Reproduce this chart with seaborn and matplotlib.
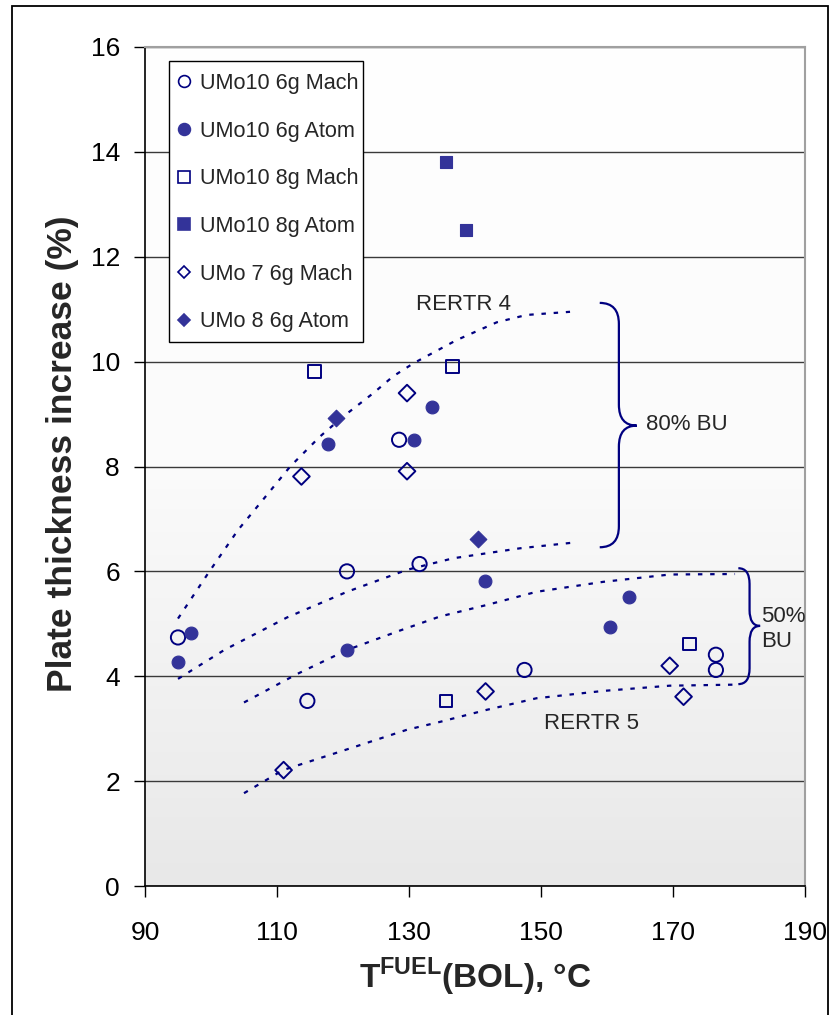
import numpy as np
import seaborn as sns
import matplotlib.pyplot as plt
from matplotlib.lines import Line2D
from matplotlib.path import Path
from matplotlib.patches import PathPatch, Rectangle
from matplotlib.colors import LinearSegmentedColormap

# measured points: fuel temperature at BOL (°C) vs plate thickness increase (%)
umo10_6g_mach_x = [95, 120.6, 131.6, 128.5, 114.6, 147.5, 176.5, 176.5]
umo10_6g_mach_y = [4.74, 6.0, 6.14, 8.51, 3.53, 4.12, 4.41, 4.12]
umo10_6g_atom_x = [97, 95, 120.6, 117.7, 130.7, 133.5, 141.5, 160.4, 163.4]
umo10_6g_atom_y = [4.83, 4.28, 4.50, 8.42, 8.51, 9.13, 5.81, 4.93, 5.52]
umo10_8g_mach_x = [115.7, 136.6, 135.6, 172.5]
umo10_8g_mach_y = [9.81, 9.91, 3.53, 4.61]
umo10_8g_atom_x = [135.6, 138.6]
umo10_8g_atom_y = [13.81, 12.51]
umo7_6g_mach_x = [113.7, 129.7, 129.7, 111.0, 141.6, 169.5, 171.6]
umo7_6g_mach_y = [7.81, 9.40, 7.91, 2.21, 3.71, 4.20, 3.61]
umo8_6g_atom_x = [118.9, 140.5]
umo8_6g_atom_y = [8.92, 6.62]

# hand drawn trend lines (RERTR 4 = 80% BU band, RERTR 5 = 50% BU band)
rertr4_hi_x = [95, 99.6, 104.1, 107.9, 112, 116.5, 120, 124.6, 127.6, 130.7, 137.2, 143.3, 147.8, 154.4]
rertr4_hi_y = [5.1, 5.97, 6.79, 7.37, 8.0, 8.57, 8.95, 9.40, 9.72, 9.97, 10.41, 10.75, 10.89, 10.95]
rertr4_lo_x = [95, 102, 111.5, 120.6, 129.7, 136.7, 146.8, 155]
rertr4_lo_y = [3.95, 4.5, 5.12, 5.61, 6.03, 6.25, 6.44, 6.55]
rertr5_hi_x = [105, 113, 120.6, 128.6, 134.7, 141.8, 149.3, 159.4, 169.5, 179.4]
rertr5_hi_y = [3.50, 4.04, 4.50, 4.87, 5.14, 5.36, 5.61, 5.80, 5.94, 5.95]
rertr5_lo_x = [105, 110.9, 119.5, 129.7, 134.7, 141.8, 149.3, 159.4, 169.5, 179.4]
rertr5_lo_y = [1.77, 2.21, 2.56, 2.98, 3.13, 3.36, 3.58, 3.72, 3.82, 3.84]

x_ticks = [90, 110, 130, 150, 170, 190]
y_ticks = [0, 2, 4, 6, 8, 10, 12, 14, 16]

navy = '#000080'
fill = '#333399'

sns.set_style("white")
plt.rcParams['font.family'] = ['Liberation Sans', 'DejaVu Sans']
plt.rcParams['mathtext.fontset'] = 'custom'
plt.rcParams['mathtext.rm'] = 'Liberation Sans'
plt.rcParams['mathtext.bf'] = 'Liberation Sans:bold'

fig = plt.figure(figsize=(8.34, 10.15), dpi=100)
ax = fig.add_axes([145 / 834, 129 / 1015, 660 / 834, 839 / 1015])

# grey gradient background
bg = LinearSegmentedColormap.from_list('bg', ['#ffffff', '#fbfbfb', '#e8e8e8'])
ax.imshow(np.linspace(0, 1, 256).reshape(-1, 1), extent=[90, 190, 0, 16],
          aspect='auto', cmap=bg, origin='upper', zorder=0)

# trend lines
for lx, ly in [(rertr4_hi_x, rertr4_hi_y), (rertr4_lo_x, rertr4_lo_y),
               (rertr5_hi_x, rertr5_hi_y), (rertr5_lo_x, rertr5_lo_y)]:
    sns.lineplot(x=lx, y=ly, ax=ax, sort=False, estimator=None, color=navy,
                 lw=1.6, linestyle=(0, (2, 3.5)), zorder=2)

# series
series = [
    ('UMo10 6g Mach', umo10_6g_mach_x, umo10_6g_mach_y, 'o', 105, False),
    ('UMo10 6g Atom', umo10_6g_atom_x, umo10_6g_atom_y, 'o', 85, True),
    ('UMo10 8g Mach', umo10_8g_mach_x, umo10_8g_mach_y, 's', 80, False),
    ('UMo10 8g Atom', umo10_8g_atom_x, umo10_8g_atom_y, 's', 80, True),
    ('UMo 7 6g Mach', umo7_6g_mach_x, umo7_6g_mach_y, 'D', 72, False),
    ('UMo 8 6g Atom', umo8_6g_atom_x, umo8_6g_atom_y, 'D', 72, True),
]
handles = []
for name, sx, sy, mk, size, filled in series:
    if filled:
        sns.scatterplot(x=sx, y=sy, ax=ax, marker=mk, s=size, facecolor=fill,
                        edgecolor=fill, linewidth=0.8, zorder=3)
    else:
        sns.scatterplot(x=sx, y=sy, ax=ax, marker=mk, s=size, facecolor='none',
                        edgecolor=navy, linewidth=1.4, zorder=3)
    ms = 8.5 if mk != 'D' else 6.5
    handles.append(Line2D([], [], linestyle='none', marker=mk, markersize=ms,
                          markerfacecolor=fill if filled else 'none',
                          markeredgecolor=fill if filled else navy,
                          markeredgewidth=1.2, label=name))

ax.set_xlim(90, 190)
ax.set_ylim(0, 16)
ax.set_xticks(x_ticks)
ax.set_yticks(y_ticks)
ax.grid(axis='y', color='#3a3a3a', lw=1)
ax.grid(axis='x', visible=False)
ax.tick_params(axis='both', labelsize=19, colors='black', direction='out',
               length=8, width=1)
ax.tick_params(axis='x', pad=17)
ax.tick_params(axis='y', pad=10)
ax.tick_params(left=True, bottom=True)
for side in ['left', 'bottom']:
    ax.spines[side].set_color('black')
    ax.spines[side].set_linewidth(1.2)
for side in ['top', 'right']:
    ax.spines[side].set_color('#a0a0a0')
    ax.spines[side].set_linewidth(1.5)

ax.set_ylabel('Plate thickness increase (%)', fontsize=25.5, fontweight='bold')
ax.yaxis.set_label_coords(-0.10, 0.515)
ax.set_xlabel(r'T$^{\mathbf{FUEL}}$(BOL), °C', fontsize=24, fontweight='bold')
ax.xaxis.set_label_coords(0.5, -0.083)


def brace(x_end, x_mid, x_tip, y_top, y_mid, y_bot, ry):
    verts = [(x_end, y_top), (x_mid, y_top), (x_mid, y_top - ry),
             (x_mid, y_mid + ry), (x_mid, y_mid), (x_tip, y_mid),
             (x_mid, y_mid), (x_mid, y_mid - ry),
             (x_mid, y_bot + ry), (x_mid, y_bot), (x_end, y_bot)]
    codes = [Path.MOVETO, Path.CURVE3, Path.CURVE3, Path.LINETO,
             Path.CURVE3, Path.CURVE3, Path.CURVE3, Path.CURVE3,
             Path.LINETO, Path.CURVE3, Path.CURVE3]
    ax.add_patch(PathPatch(Path(verts, codes), fill=False, edgecolor=navy,
                           lw=1.6, zorder=3))


brace(158.9, 161.8, 164.5, 11.12, 8.78, 6.46, 0.4)
brace(179.9, 181.6, 183.2, 6.06, 4.96, 3.85, 0.3)

ax.text(131.0, 11.09, 'RERTR 4', fontsize=16, va='center', ha='left')
ax.text(150.4, 3.09, 'RERTR 5', fontsize=16, va='center', ha='left')
ax.text(165.9, 8.8, '80% BU', fontsize=16, va='center', ha='left')
ax.text(183.4, 4.9, '50%\nBU', fontsize=16, va='center', ha='left', linespacing=1.25)

# legend box drawn separately so its padding matches the original
fig.add_artist(Rectangle((169 / 834, 1 - 342 / 1015), 194 / 834, 281 / 1015,
                         transform=fig.transFigure, facecolor='white',
                         edgecolor='black', lw=1.0, zorder=4))
leg = fig.legend(handles=handles, loc='upper left',
                 bbox_to_anchor=(177 / 834, 1 - 73 / 1015), bbox_transform=fig.transFigure,
                 borderaxespad=0, borderpad=0, fontsize=15.6, frameon=False,
                 labelspacing=1.23, handlelength=0.65, handletextpad=0.4)
leg.set_zorder(5)

# outer chart frame
fig.add_artist(Rectangle((12 / 834, -0.02), 816 / 834, 1.02 - 6 / 1015,
                         transform=fig.transFigure, fill=False,
                         edgecolor='black', lw=1.3))

fig.savefig('out.png', dpi=100)
